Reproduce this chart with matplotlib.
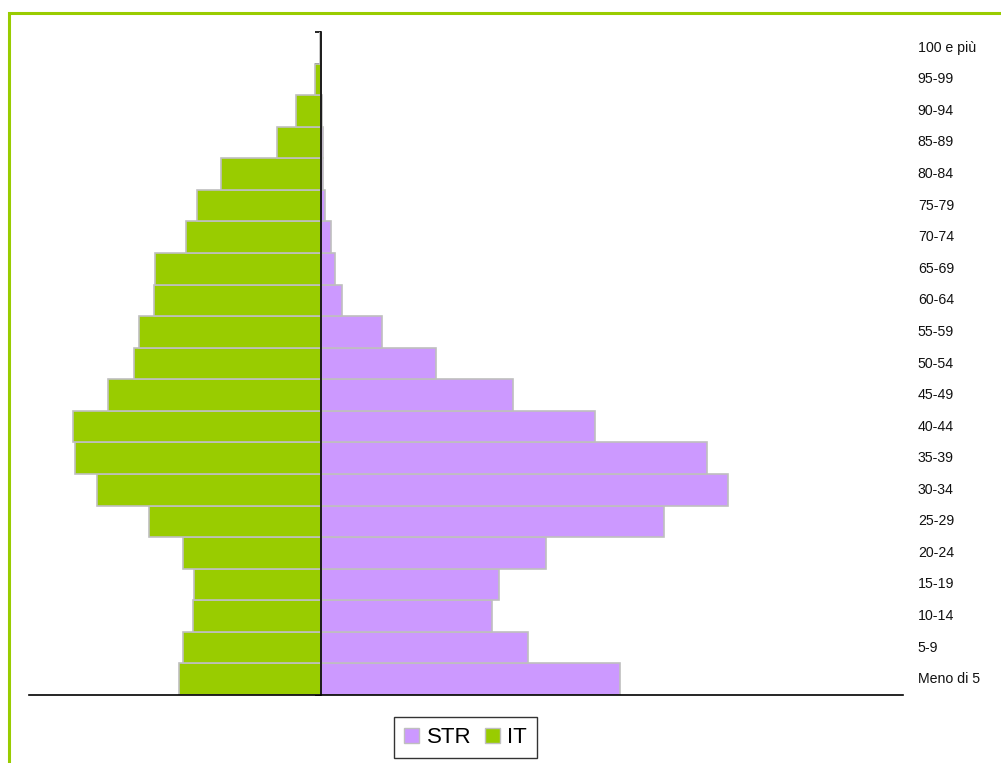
import numpy as np
import matplotlib
matplotlib.use("Agg")
import matplotlib.pyplot as plt
from matplotlib.patches import Rectangle, Patch
from matplotlib.transforms import blended_transform_factory

plt.rcParams['font.family'] = ['Liberation Sans', 'DejaVu Sans']

# classi di età, dal basso verso l'alto
eta = ["Meno di 5", "5-9", "10-14", "15-19", "20-24", "25-29", "30-34",
       "35-39", "40-44", "45-49", "50-54", "55-59", "60-64", "65-69",
       "70-74", "75-79", "80-84", "85-89", "90-94", "95-99", "100 e più"]

# percentuali (stima dal grafico)
it_pct = [2.45, 2.38, 2.21, 2.18, 2.38, 2.96, 3.85, 4.23, 4.27, 3.66,
          3.22, 3.14, 2.88, 2.85, 2.33, 2.13, 1.73, 0.76, 0.43, 0.12, 0.03]
str_pct = [5.13, 3.55, 2.92, 3.05, 3.86, 5.87, 6.97, 6.62, 4.70, 3.29,
           1.96, 1.04, 0.36, 0.23, 0.17, 0.06, 0.02, 0.02, 0.01, 0.0, 0.0]

verde = '#99CC00'
viola = '#CC99FF'
bordo = '#BFBFBF'

fig = plt.figure(figsize=(10.01, 7.63), dpi=100)
ax = fig.add_axes([29 / 1001, 68 / 763, 874 / 1001, 663 / 763])

y = np.arange(len(eta))
ax.barh(y, -np.array(it_pct), height=1.0, color=verde, edgecolor=bordo, linewidth=1.2, zorder=2)
ax.barh(y, str_pct, height=1.0, color=viola, edgecolor=bordo, linewidth=1.2, zorder=2)

ax.set_xlim(-5.02, 9.98)
ax.set_ylim(-0.5, len(eta) - 0.5)

# assi
for s in ['top', 'right']:
    ax.spines[s].set_visible(False)
ax.spines['left'].set_position(('data', 0))
ax.spines['left'].set_zorder(3)
ax.spines['bottom'].set_linewidth(1.2)
ax.spines['left'].set_linewidth(1.2)
ax.set_xticks([])
ax.set_yticks(np.arange(-0.5, len(eta), 1.0))
ax.set_yticklabels([])
ax.tick_params(axis='y', direction='out', length=4, width=1.2)

# etichette età a destra
tr = blended_transform_factory(ax.transAxes, ax.transData)
for i, lab in enumerate(eta):
    ax.text(1.017, i, lab, transform=tr, ha='left', va='center', fontsize=10.2, color='#111111')

# legenda
handles = [Patch(facecolor=viola, edgecolor=bordo, label='STR'),
           Patch(facecolor=verde, edgecolor=bordo, label='IT')]
leg = fig.legend(handles=handles, loc='center', bbox_to_anchor=(0.465, 0.0328),
                 ncol=2, fontsize=16, frameon=True, fancybox=False,
                 handlelength=0.68, handleheight=0.68, handletextpad=0.35,
                 columnspacing=0.6, borderpad=0.45, borderaxespad=0)
leg.get_frame().set_edgecolor('black')
leg.get_frame().set_linewidth(1.0)

# cornice verde
fig.patches.append(Rectangle((9 / 1001, -0.1), 1.2, 1.1 - 13 / 763, transform=fig.transFigure,
                             fill=False, edgecolor=verde, linewidth=2.2))

fig.savefig('out.png', dpi=100)
